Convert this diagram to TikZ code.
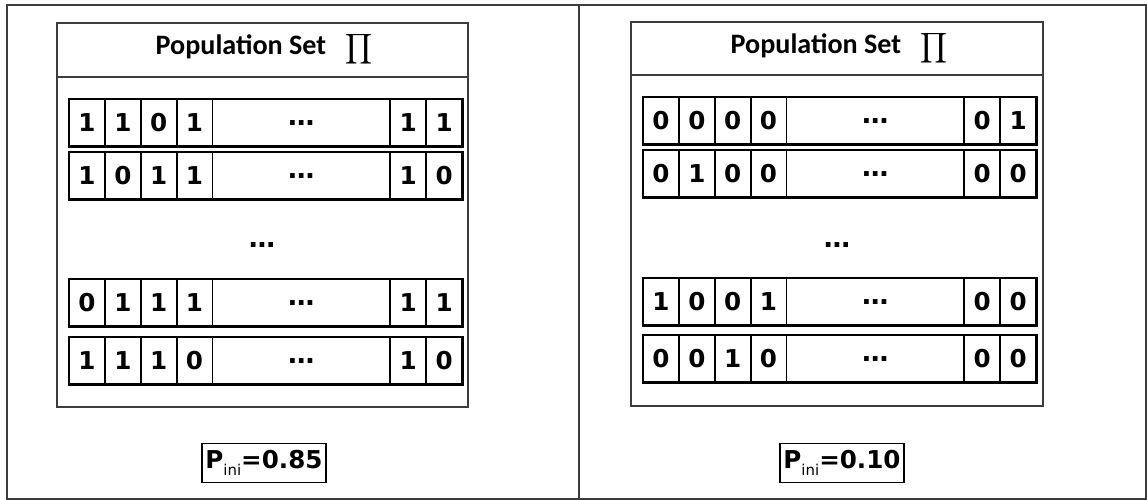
\documentclass[tikz,border=0pt]{standalone}
\usepackage{amsmath}
\usepackage{fontspec}
\setmainfont{DejaVu Sans}
\newfontfamily\titlefont{Carlito}
\usetikzlibrary{positioning}

\definecolor{framegray}{RGB}{60,60,60}

\tikzset{
  bit/.style={draw, line width=0.5pt, minimum width=0.7cm, minimum height=0.94cm, inner sep=0pt, font=\bfseries\fontsize{14}{14}\selectfont},
  dotcell/.style={bit, minimum width=3.54cm, font=\bfseries\fontsize{15}{15}\selectfont},
  chrom/.style={draw, line width=1.7pt},
  popbox/.style={draw=framegray, line width=0.6pt},
  pbox/.style={draw, line width=0.7pt, inner sep=2pt, minimum height=0.78cm, font=\bfseries\fontsize{14}{14}\selectfont}
}

\begin{document}
\begin{tikzpicture}[x=0.02cm, y=-0.02cm]
    \useasboundingbox (0,0) rectangle (1147,500);

    % Outer frame and separator
    \draw[framegray, line width=0.9pt] (7,5) rectangle (1146,499);
    \draw[framegray, line width=1.1pt] (579,5) -- (579,499);

    % Left panel
    \draw[popbox] (57,23) rectangle (468,407);
    \draw[popbox] (57,77) -- (468,77);
    \node (Ltitle) at (264,49) {{\titlefont\bfseries\fontsize{16}{16}\selectfont Population Set}\hspace{11pt}{\fontsize{12}{12}\selectfont$\displaystyle\prod$}};
    \foreach \ya/\yb/\yc/\yd/\ye/\yf/\top [count=\r] in {1/1/0/1/1/1/99, 1/0/1/1/1/0/152, 0/1/1/1/1/1/279, 1/1/1/0/1/0/337}{
        \node[bit, anchor=north west] (L\r c1) at (69,\top) {\ya};
        \node[bit, right=0pt of L\r c1] (L\r c2) {\yb};
        \node[bit, right=0pt of L\r c2] (L\r c3) {\yc};
        \node[bit, right=0pt of L\r c3] (L\r c4) {\yd};
        \node[dotcell, right=0pt of L\r c4] (L\r c5) {…};
        \node[bit, right=0pt of L\r c5] (L\r c6) {\ye};
        \node[bit, right=0pt of L\r c6] (L\r c7) {\yf};
        \draw[chrom] (L\r c1.north west) rectangle (L\r c7.south east);
    }
    \node[font=\bfseries\fontsize{15}{15}\selectfont] (Ldots) at (262,245) {…};
    \node[pbox] (Lp) at (264,463) {P\raisebox{-0.5ex}{\mdseries\fontsize{8.5}{8.5}\selectfont ini}=0.85};

    % Right panel
    \begin{scope}[shift={(574,-1)}]
        \draw[popbox] (57,23) rectangle (469,407);
        \draw[popbox] (57,76) -- (469,76);
        \node (Rtitle) at (265,49) {{\titlefont\bfseries\fontsize{16}{16}\selectfont Population Set}\hspace{11pt}{\fontsize{12}{12}\selectfont$\displaystyle\prod$}};
        \foreach \ya/\yb/\yc/\yd/\ye/\yf/\top [count=\r] in {0/0/0/0/0/1/98, 0/1/0/0/0/0/151, 1/0/0/1/0/0/279, 0/0/1/0/0/0/336}{
            \node[bit, anchor=north west] (R\r c1) at (69,\top) {\ya};
            \node[bit, right=0pt of R\r c1] (R\r c2) {\yb};
            \node[bit, right=0pt of R\r c2] (R\r c3) {\yc};
            \node[bit, right=0pt of R\r c3] (R\r c4) {\yd};
            \node[dotcell, right=0pt of R\r c4] (R\r c5) {…};
            \node[bit, right=0pt of R\r c5] (R\r c6) {\ye};
            \node[bit, right=0pt of R\r c6] (R\r c7) {\yf};
            \draw[chrom] (R\r c1.north west) rectangle (R\r c7.south east);
        }
        \node[font=\bfseries\fontsize{15}{15}\selectfont] (Rdots) at (263,246) {…};
        \node[pbox] (Rp) at (268,464) {P\raisebox{-0.5ex}{\mdseries\fontsize{8.5}{8.5}\selectfont ini}=0.10};
    \end{scope}
\end{tikzpicture}
\end{document}
